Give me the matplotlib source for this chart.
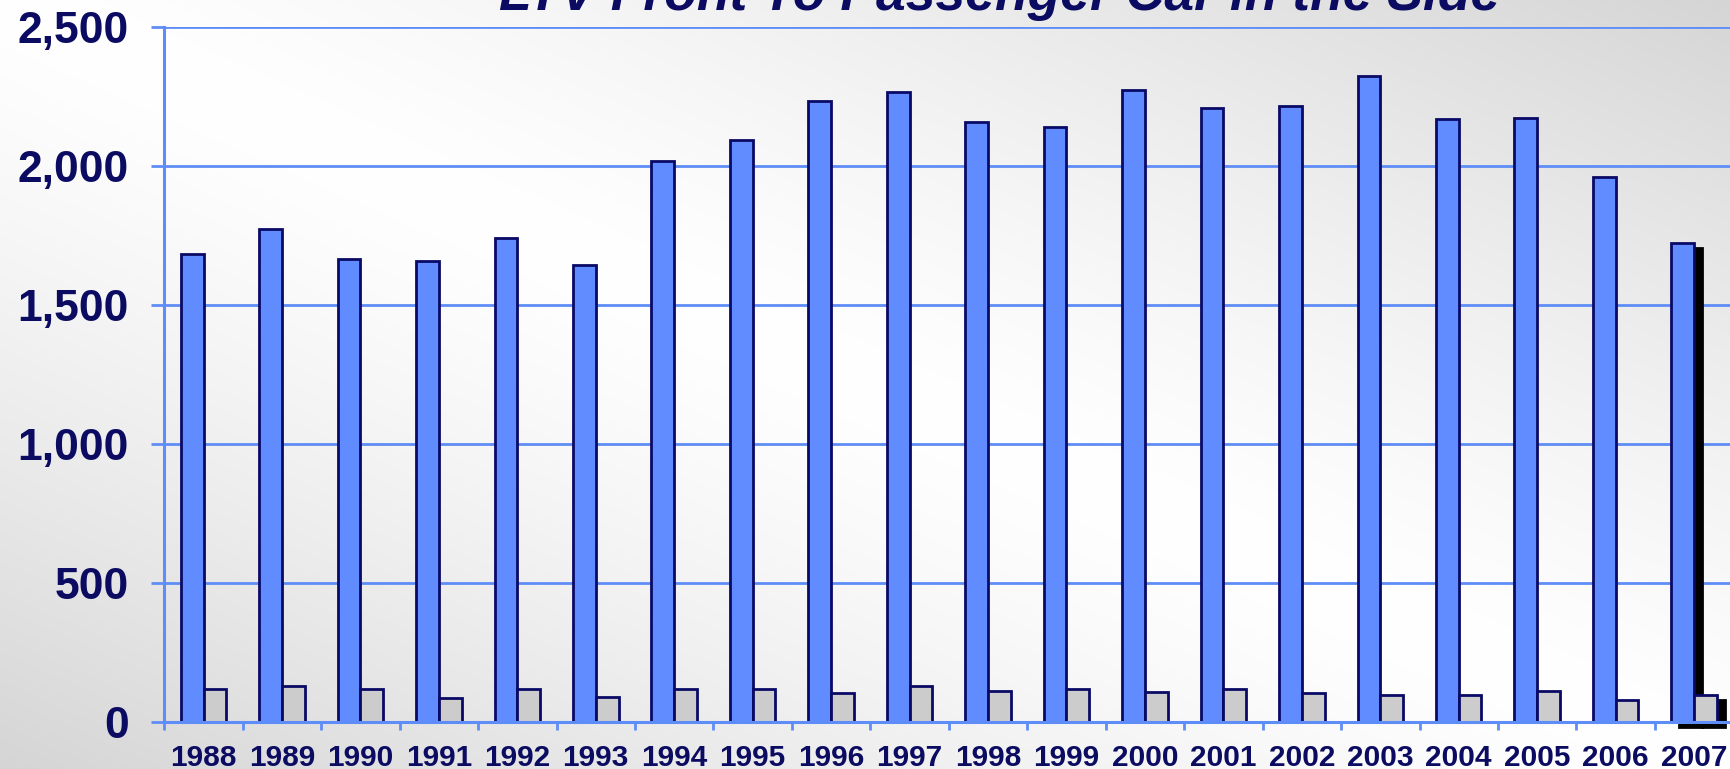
import numpy as np
import matplotlib
matplotlib.use("Agg")
import matplotlib.pyplot as plt
from matplotlib.transforms import offset_copy

years = ["1988", "1989", "1990", "1991", "1992", "1993", "1994", "1995", "1996", "1997",
         "1998", "1999", "2000", "2001", "2002", "2003", "2004", "2005", "2006", "2007"]
blue_vals = [1681, 1771, 1665, 1657, 1740, 1642, 2017, 2093, 2231, 2263,
             2156, 2140, 2271, 2206, 2214, 2321, 2166, 2173, 1960, 1723]
gray_vals = [120, 130, 120, 88, 120, 90, 120, 120, 105, 130,
             112, 120, 110, 120, 105, 98, 98, 112, 81, 97]
yticks = [0, 500, 1000, 1500, 2000, 2500]
ytick_labels = ["0", "500", "1,000", "1,500", "2,000", "2,500"]
title = "LTV Front To Passenger Car in the Side"

W, H = 1730, 769
DPI = 100
plt.rcParams['font.family'] = ['Liberation Sans', 'DejaVu Sans']

NAVY = '#0b0b62'
GRID = '#5f8df7'
BLUE = '#608cff'
GRAY = '#cccccc'
EDGE = '#0a0a66'

fig = plt.figure(figsize=(W / DPI, H / DPI), dpi=DPI)

# background gradient (light along the top-left -> bottom-right diagonal)
bg = fig.add_axes([0, 0, 1, 1], zorder=-10)
u = np.linspace(0, 1, 400)[None, :]
v = np.linspace(0, 1, 200)[:, None]
d = np.abs(u - v)
g = (255 - 42 * d ** 1.3) / 255.0
img = np.dstack([g, g, g])
bg.imshow(img, aspect='auto', extent=[0, 1, 0, 1], origin='upper', interpolation='bilinear')
bg.set_axis_off()

left = 164.3 / W
bottom = (H - 722.4) / H
width = (1733.3 - 164.3) / W
height = (722.4 - 26.5) / H
ax = fig.add_axes([left, bottom, width, height])
ax.set_facecolor('none')

x = np.arange(len(years))
bw = 0.29

# drop shadow on the last (selected) group
sh = offset_copy(ax.transData, fig=fig, x=8, y=-5, units='dots')
ax.bar(x[-1:] - bw / 2, blue_vals[-1:], width=bw, color='black', edgecolor='black',
       linewidth=2.0, transform=sh, zorder=1.5, clip_on=False)
ax.bar(x[-1:] + bw / 2, gray_vals[-1:], width=bw, color='black', edgecolor='black',
       linewidth=2.0, transform=sh, zorder=1.5, clip_on=False)

ax.bar(x - bw / 2, blue_vals, width=bw, color=BLUE, edgecolor=EDGE, linewidth=2.0, zorder=2)
ax.bar(x + bw / 2, gray_vals, width=bw, color=GRAY, edgecolor=EDGE, linewidth=2.0, zorder=3)

ax.set_xlim(-0.5, len(years) - 0.5)
ax.set_ylim(0, 2500)

ax.set_yticks(yticks)
ax.set_yticklabels(ytick_labels)
ax.set_xticks(x)
ax.set_xticklabels(years)
ax.set_xticks(np.arange(len(years) + 1) - 0.5, minor=True)

ax.grid(axis='y', color=GRID, linewidth=2.0, zorder=0)
ax.set_axisbelow(True)

for s in ['top', 'right']:
    ax.spines[s].set_visible(False)
for s in ['left', 'bottom']:
    ax.spines[s].set_color(GRID)
    ax.spines[s].set_linewidth(2.2)
    ax.spines[s].set_zorder(4)

ax.tick_params(axis='y', which='major', direction='out', length=9.5, width=2.0, color=GRID,
               pad=16, labelsize=32, labelcolor=NAVY)
ax.tick_params(axis='x', which='major', length=0, pad=15.5, labelsize=21.5, labelcolor=NAVY)
ax.tick_params(axis='x', which='minor', direction='out', length=5.8, width=2.0, color=GRID)
for lab in ax.get_yticklabels() + ax.get_xticklabels():
    lab.set_fontweight('bold')

fig.text(1000 / W, (H - 10) / H, title, ha='center', va='baseline', fontsize=38.5,
         fontweight='bold', fontstyle='italic', color=NAVY)

fig.savefig('out.png', dpi=DPI)
